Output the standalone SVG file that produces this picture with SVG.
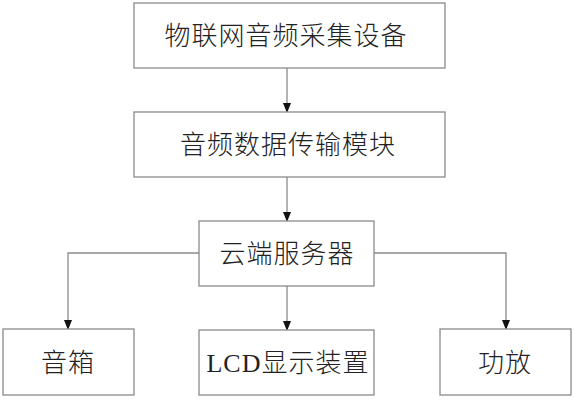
<svg xmlns="http://www.w3.org/2000/svg" width="574" height="400" viewBox="0 0 574 400">
<style>
.box{fill:#fff;stroke:#8a8a8a;stroke-width:1.3}
.lbl{font-family:"Liberation Serif","Noto Sans CJK SC",serif;font-size:26px;font-weight:300;fill:#222;text-anchor:middle;letter-spacing:1px}
.ln{fill:none;stroke:#8a8a8a;stroke-width:1.3}
</style>
<defs>
<marker id="ah" markerWidth="10" markerHeight="10" refX="9" refY="5" orient="auto" markerUnits="userSpaceOnUse">
<path d="M0,1 L10,5 L0,9 Z" fill="#111"/>
</marker>
</defs>
<rect width="574" height="400" fill="#fff"/>
<g id="connectors">
<path class="ln" d="M287,68 V112" marker-end="url(#ah)"/>
<path class="ln" d="M287,177 V221" marker-end="url(#ah)"/>
<path class="ln" d="M287,286 V330" marker-end="url(#ah)"/>
<path class="ln" d="M199,253 H68 V329" marker-end="url(#ah)"/>
<path class="ln" d="M374,253 H506 V329" marker-end="url(#ah)"/>
</g>
<g id="n1"><rect class="box" x="134" y="3" width="311" height="65"/><text class="lbl" x="286" y="45">物联网音频采集设备</text></g>
<g id="n2"><rect class="box" x="134" y="112" width="311" height="65"/><text class="lbl" x="288" y="154">音频数据传输模块</text></g>
<g id="n3"><rect class="box" x="199" y="221" width="175" height="65"/><text class="lbl" x="287" y="263">云端服务器</text></g>
<g id="n4"><rect class="box" x="3" y="329" width="131" height="66"/><text class="lbl" x="68" y="372">音箱</text></g>
<g id="n5"><rect class="box" x="199" y="330" width="175" height="65"/><text class="lbl" x="288" y="372">LCD显示装置</text></g>
<g id="n6"><rect class="box" x="440" y="329" width="131" height="66"/><text class="lbl" x="505" y="372">功放</text></g>
</svg>
